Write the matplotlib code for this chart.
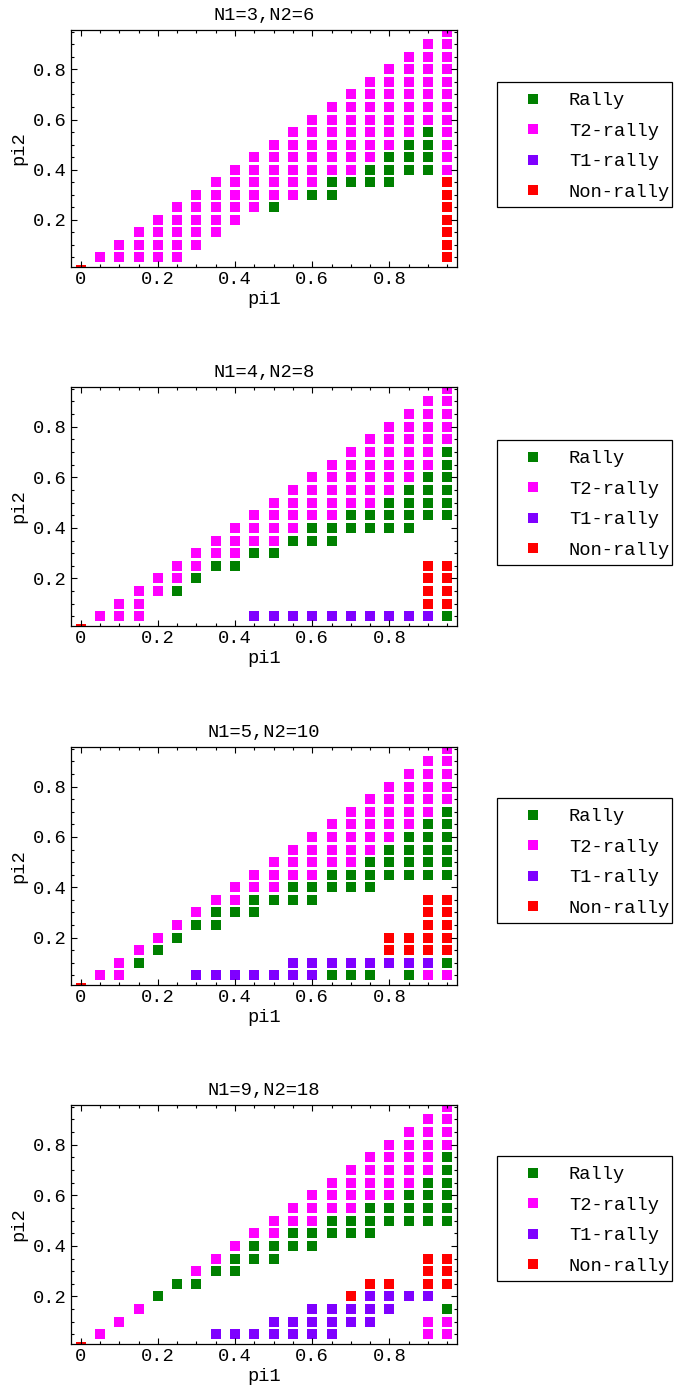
import numpy as np
import matplotlib
matplotlib.use("Agg")
import matplotlib.pyplot as plt
from matplotlib.lines import Line2D
from matplotlib.patches import Rectangle

plt.rcParams['font.family'] = ['Liberation Mono', 'DejaVu Sans Mono']

# grid of prior values
pi1_grid = [0.0, 0.05, 0.10, 0.15, 0.20, 0.25, 0.30, 0.35, 0.40, 0.45,
            0.50, 0.55, 0.60, 0.65, 0.70, 0.75, 0.80, 0.85, 0.90, 0.95]
pi2_grid = [0.0, 0.05, 0.10, 0.15, 0.20, 0.25, 0.30, 0.35, 0.40, 0.45,
            0.50, 0.55, 0.60, 0.65, 0.70, 0.75, 0.80, 0.85, 0.90, 0.95]

# one string per pi1 column, one char per pi2 row (row 0 is pi2 = 0)
# R = rally, 2 = T2-rally, 1 = T1-rally, N = non-rally, . = nothing
eq_3_6 = [
    "N",
    ".2",
    ".22",
    ".222",
    ".2222",
    ".22222",
    "..22222",
    "...22222",
    "....22222",
    ".....22222",
    ".....R22222",
    "......222222",
    "......R222222",
    "......RR222222",
    ".......R2222222",
    ".......RR2222222",
    ".......RRR2222222",
    "........RRR2222222",
    "........RRRR2222222",
    ".NNNNNNN222222222222",
]
eq_4_8 = [
    "N",
    ".2",
    ".22",
    ".222",
    "...22",
    "...R22",
    "....R22",
    ".....R22",
    ".....R222",
    ".1....R222",
    ".1....R2222",
    ".1.....R2222",
    ".1.....RR2222",
    ".1.....RR22222",
    ".1......RR22222",
    ".1......RR222222",
    ".1......RRR222222",
    ".1......RRRR222222",
    ".1NNNN...RRRR222222",
    ".RNNNN...RRRRRR22222",
]
eq_5_10 = [
    "N",
    ".2",
    ".22",
    "..R2",
    "...R2",
    "....R2",
    ".1...R2",
    ".1...RR2",
    ".1....R22",
    ".1....RR22",
    ".1.....R222",
    ".11....RR222",
    ".11....RR2222",
    ".R1.....RR2222",
    ".R1.....RR22222",
    ".R1.....RRR22222",
    "..1NN....RRR22222",
    ".R1NN....RRRR22222",
    ".21NNNNN.RRRRR22222",
    ".2RNNNNN.RRRRRR22222",
]
eq_9_18 = [
    "N",
    ".2",
    "..2",
    "...2",
    "....R",
    ".....R",
    ".....R2",
    ".1....R2",
    ".1....RR2",
    ".1.....RR2",
    ".11....RR22",
    ".11.....RR22",
    ".111....RR222",
    ".111.....RR222",
    "..11N....RR2222",
    "..111N...RRR2222",
    "...11N....RR22222",
    "....1.....RRR22222",
    ".22.1NNN..RRRR22222",
    ".22R.NNN..RRRRRR2222",
]

panels = [eq_3_6, eq_4_8, eq_5_10, eq_9_18]
titles = ["N1=3,N2=6", "N1=4,N2=8", "N1=5,N2=10", "N1=9,N2=18"]

outcome_codes = ["R", "2", "1", "N"]
outcome_names = ["Rally", "T2-rally", "T1-rally", "Non-rally"]
outcome_colors = ["#008000", "#ff00ff", "#7f00ff", "#ff0000"]

W, H = 675, 1391
fig = plt.figure(figsize=(W / 100, H / 100), dpi=100)

# frame boxes in pixels (left, top, right, bottom)
boxes = [(71, 30, 457, 267), (71, 387, 457, 626),
         (71, 747, 457, 985), (71, 1105, 457, 1344)]
FS = 13.5

for k, (cols, title) in enumerate(zip(panels, titles)):
    x0, y0, x1, y1 = boxes[k]
    ax = fig.add_axes([x0 / W, 1 - y1 / H, (x1 - x0) / W, (y1 - y0) / H])

    for code, color in zip(outcome_codes, outcome_colors):
        xs, ys = [], []
        for i, col in enumerate(cols):
            for j, c in enumerate(col):
                if c == code:
                    xs.append(pi1_grid[i])
                    ys.append(pi2_grid[j])
        ax.scatter(xs, ys, marker='s', s=52, c=color, linewidths=0)

    ax.set_xlim(-0.025, 0.975)
    ax.set_ylim(0.012, 0.957)
    ax.set_xticks([0, 0.2, 0.4, 0.6, 0.8])
    ax.set_xticklabels(["0", "0.2", "0.4", "0.6", "0.8"])
    ax.set_yticks([0.2, 0.4, 0.6, 0.8])
    ax.set_yticklabels(["0.2", "0.4", "0.6", "0.8"])
    ax.set_xticks(np.arange(0, 0.96, 0.05), minor=True)
    ax.set_yticks(np.arange(0.05, 0.96, 0.05), minor=True)
    ax.tick_params(which='both', direction='in', top=True, right=True,
                   labelsize=FS, width=0.8)
    ax.tick_params(which='major', length=4, pad=3)
    ax.tick_params(which='minor', length=2.5)
    for sp in ax.spines.values():
        sp.set_linewidth(0.9)

    ax.set_title(title, fontsize=FS, pad=7)
    ax.set_xlabel("pi1", fontsize=FS, labelpad=2)
    ax.set_ylabel("pi2", fontsize=FS, labelpad=4)

    # legend, drawn without its own frame; the box is a separate rectangle
    handles = [Line2D([], [], marker='s', linestyle='none', markersize=7.2,
                      markerfacecolor=c, markeredgewidth=0)
               for c in outcome_colors]
    top = 82 + 358 * k
    ax.legend(handles, outcome_names, loc='upper left',
              bbox_to_anchor=(523.6 / W, 1 - (top + 10) / H),
              bbox_transform=fig.transFigure, frameon=False, fontsize=FS,
              borderpad=0, borderaxespad=0, handlelength=1.0,
              handletextpad=1.42, labelspacing=0.72)
    fig.patches.append(Rectangle((497 / W, 1 - (top + 125) / H),
                                 175 / W, 125 / H, transform=fig.transFigure,
                                 fill=False, edgecolor='black', linewidth=0.9))

fig.savefig("out.png", dpi=100)
